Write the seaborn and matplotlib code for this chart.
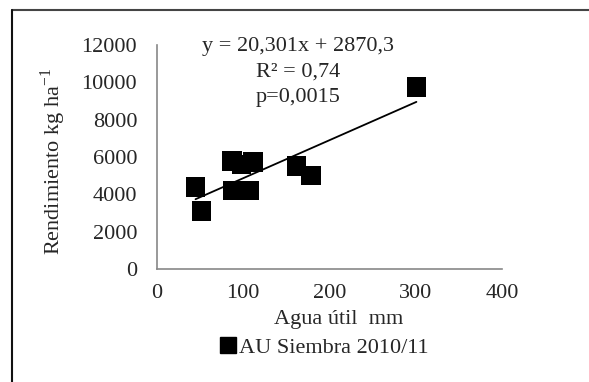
import matplotlib
matplotlib.use("Agg")
import matplotlib.pyplot as plt
import seaborn as sns
import pandas as pd
from matplotlib.lines import Line2D

agua_util = [45, 52, 87, 88, 98.5, 107, 112, 162, 178.6, 301]
rendimiento = [4400, 3100, 5780, 4200, 5590, 4200, 5740, 5520, 5010, 9750]
serie = "AU Siembra 2010/11"
x_ticks = [0, 100, 200, 300, 400]
y_ticks = [0, 2000, 4000, 6000, 8000, 10000, 12000]
ecuacion = ["y = 20,301x + 2870,3", "R² = 0,74", "p=0,0015"]

df = pd.DataFrame({"Agua útil": agua_util, "Rendimiento": rendimiento})

sns.set_style("white")
plt.rcParams["font.family"] = ["Liberation Serif", "DejaVu Serif"]
plt.rcParams["mathtext.fontset"] = "stix"

FS = 16

fig = plt.figure(figsize=(5.89, 3.82), dpi=100)
ax = fig.add_axes([0.266, 0.296, 0.586, 0.586])

sns.regplot(data=df, x="Agua útil", y="Rendimiento", ax=ax, scatter=False, ci=None,
            color="black", line_kws={"linewidth": 1.3})
sns.scatterplot(data=df, x="Agua útil", y="Rendimiento", ax=ax, marker="s", s=200,
                color="black", edgecolor="none", zorder=3)

ax.set_xlim(0, 400)
ax.set_ylim(0, 12000)
ax.set_xticks(x_ticks)
ax.set_yticks(y_ticks)
ax.set_xticklabels([str(t) for t in x_ticks])
ax.set_yticklabels([str(t) for t in y_ticks])
ax.tick_params(axis="both", labelsize=FS, length=4, width=1, color="#888888",
               direction="out")
ax.tick_params(axis="y", pad=10)
ax.tick_params(axis="x", pad=7)
for s in ["top", "right"]:
    ax.spines[s].set_visible(False)
for s in ["left", "bottom"]:
    ax.spines[s].set_color("#888888")
    ax.spines[s].set_linewidth(1.2)

ax.set_xlabel("Agua útil  mm", fontsize=FS)
ax.xaxis.set_label_coords(0.527, -0.183)
ax.set_ylabel(r"Rendimiento kg ha$^{\mathregular{-1}}$", fontsize=FS)
ax.yaxis.set_label_coords(-0.257, 0.48)

ax.text(0.41, 1.035, "\n".join(ecuacion), transform=ax.transAxes, ha="center",
        va="top", fontsize=FS, linespacing=1.45)

handle = Line2D([], [], marker="s", color="black", linestyle="none", markersize=11.5)
fig.legend([handle], [serie], loc="center", bbox_to_anchor=(0.548, 0.09),
           frameon=False, fontsize=FS, handletextpad=0.0, handlelength=1.0)

fig.add_artist(Line2D([12 / 589, 1.0], [1 - 10 / 382, 1 - 10 / 382],
                      transform=fig.transFigure, color="#444444", linewidth=1.5))
fig.add_artist(Line2D([12 / 589, 12 / 589], [0, 1 - 10 / 382],
                      transform=fig.transFigure, color="#111111", linewidth=1.5))

fig.savefig("out.png", dpi=100)
